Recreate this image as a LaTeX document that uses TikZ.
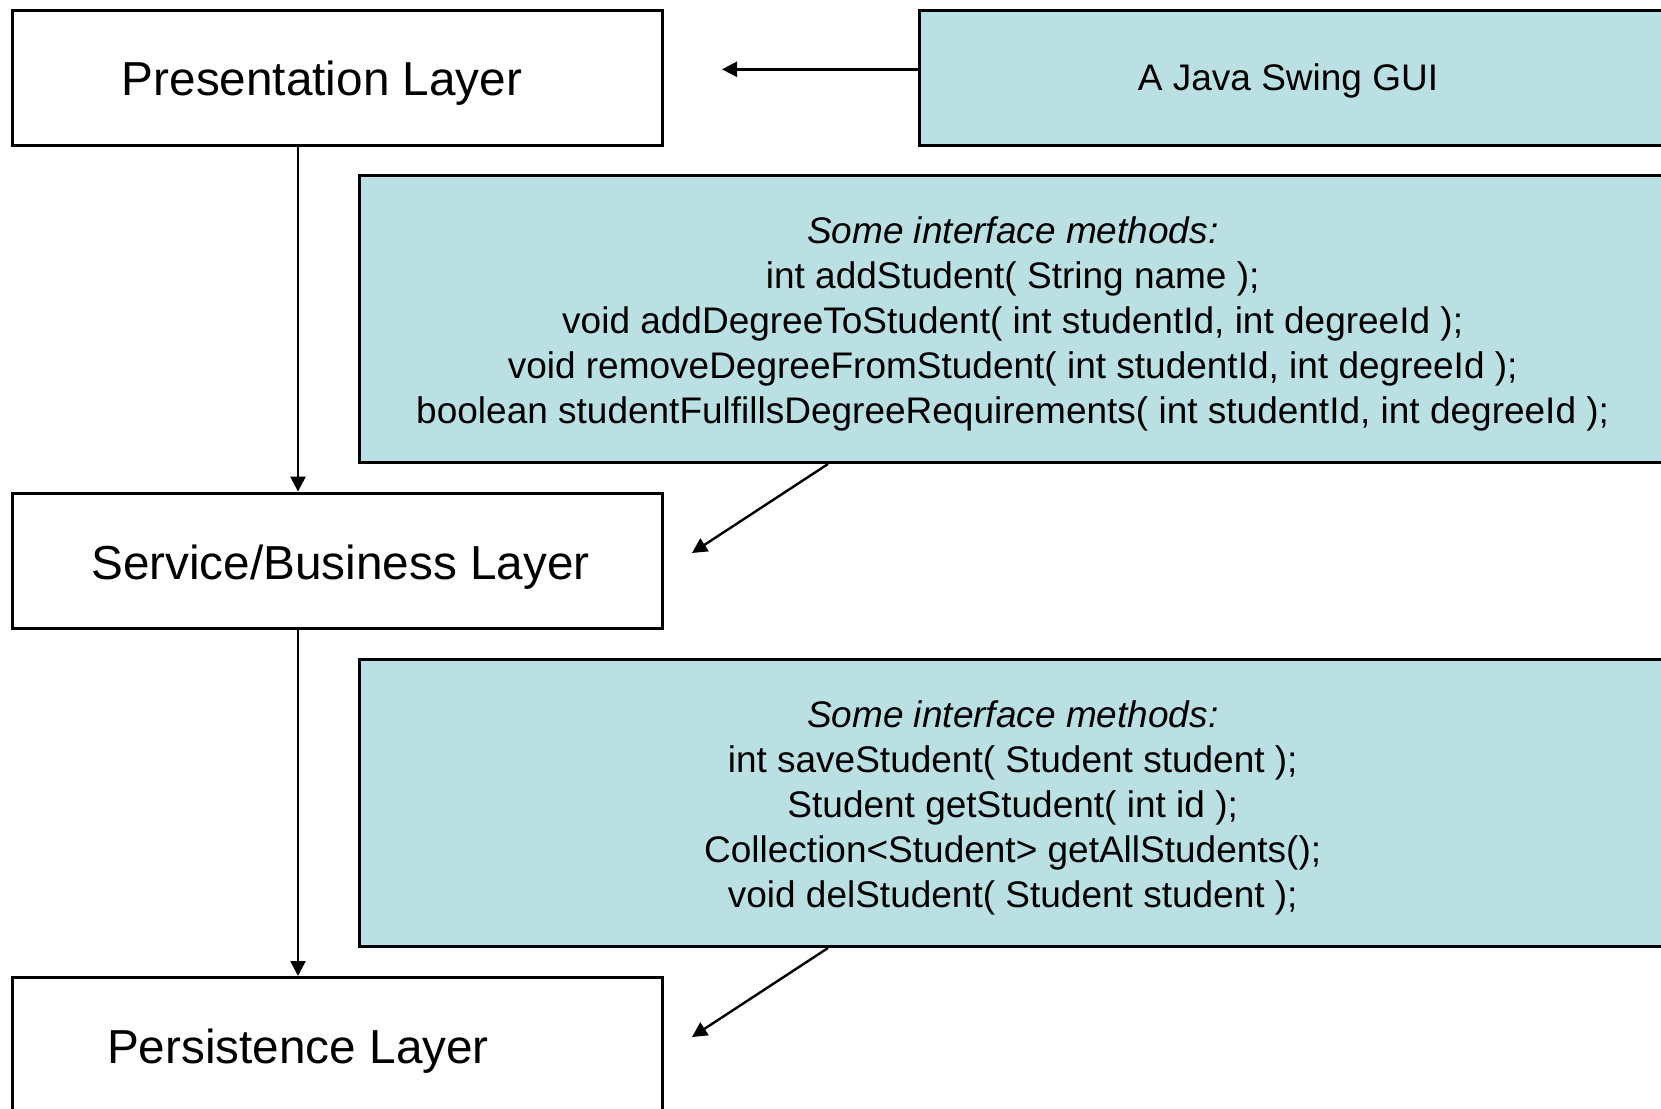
\documentclass[tikz,border=0pt]{standalone}
\usepackage{fontspec}
\setmainfont{Liberation Sans}
\usetikzlibrary{arrows.meta,calc}
\definecolor{note}{RGB}{187,224,227}
\begin{document}
\begin{tikzpicture}[x=0.5pt,y=-0.5pt,
  layerbox/.style={draw=black,line width=1.5pt,fill=white,anchor=north west,
    minimum width=325.2pt,minimum height=67.75pt,inner sep=0pt},
  notebox/.style={draw=black,line width=1.5pt,fill=note,anchor=north west,inner sep=0pt},
  bigtxt/.style={font=\fontsize{23.85}{28}\selectfont,inner sep=0pt},
  midtxt/.style={font=\fontsize{18.5}{22.5}\selectfont,inner sep=0pt,align=center},
  arr/.style={line width=1.2pt,-{Triangle[length=7.5pt,width=7.5pt]}}]
\clip (0,0) rectangle (1661,1109);
\fill[white] (0,0) rectangle (1661,1109);
% boxes
\node[layerbox] (pres) at (10.6,8.5) {};
\node[layerbox] (serv) at (10.6,491.6) {};
\node[layerbox] (pers) at (10.6,976) {};
\node[notebox,minimum width=376pt,minimum height=67.75pt] (gui) at (918,8.5) {};
\node[notebox,minimum width=655pt,minimum height=143.5pt] (int1) at (358,174) {};
\node[notebox,minimum width=655pt,minimum height=143.5pt] (int2) at (358,658) {};
% texts
\node[bigtxt] (prest) at (322,83.5) {Presentation Layer};
\node[bigtxt] (servt) at (340.5,567) {Service/Business Layer};
\node[bigtxt] (perst) at (298,1051.5) {Persistence Layer};
\node[midtxt] (guit) at (1288,81) {A Java Swing GUI};
\node[midtxt] (int1t) at (1012.7,323.5) {\textit{Some interface methods:}\\
int addStudent( String name );\\
void addDegreeToStudent( int studentId, int degreeId );\\
void removeDegreeFromStudent( int studentId, int degreeId );\\
boolean studentFulfillsDegreeRequirements( int studentId, int degreeId );};
\node[midtxt] (int2t) at (1012.7,808) {\textit{Some interface methods:}\\
int saveStudent( Student student );\\
Student getStudent( int id );\\
Collection<Student> getAllStudents();\\
void delStudent( Student student );};
% connector ends
\coordinate (guitip) at (722,69.3);
\coordinate (ax) at (298,0);
\coordinate (tip1) at (692,553);
\coordinate (tip2) at (692,1037);
\coordinate (src) at (828,0);
% connectors
\draw[arr] (gui.west |- guitip) -- (guitip);
\draw[arr] (pres.south -| ax) -- (serv.north -| ax);
\draw[arr] (serv.south -| ax) -- (pers.north -| ax);
\draw[arr] (int1.south -| src) -- (tip1);
\draw[arr] (int2.south -| src) -- (tip2);
\end{tikzpicture}
\end{document}
